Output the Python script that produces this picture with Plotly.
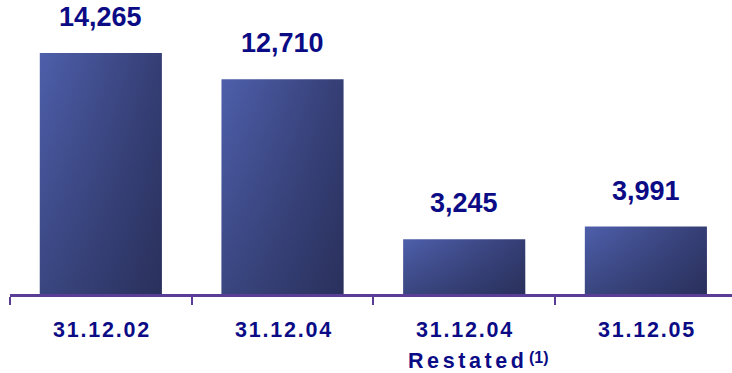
import plotly.graph_objects as go

# Data
categories = ["31.12.02", "31.12.04", "31.12.04", "31.12.05"]
sublabels = ["", "", "Restated", ""]
footnotes = ["", "", "(1)", ""]
values = [14265, 12710, 3245, 3991]
value_labels = ["14,265", "12,710", "3,245", "3,991"]

NAVY = "#0b0b85"
AXIS = "#5a3d96"
FONT = "Liberation Sans, Arial, sans-serif"
BAR_W = 0.672
HS = "\u200a"  # hair space, used for letter spacing


def spaced(s, n=1):
    return (HS * n).join(list(s))


fig = go.Figure()

for i, v in enumerate(values):
    xs = [i - BAR_W / 2, i + BAR_W / 2, i + BAR_W / 2, i - BAR_W / 2, i - BAR_W / 2]
    ys = [0, 0, v, v, 0]
    # base horizontal shading
    fig.add_trace(go.Scatter(
        x=xs, y=ys, mode="lines", fill="toself", line=dict(width=0),
        fillgradient=dict(type="horizontal",
                          colorscale=[[0, "#4e5fab"], [1, "#353e74"]]),
        hoverinfo="skip", showlegend=False))
    # darkening toward the bottom
    fig.add_trace(go.Scatter(
        x=xs, y=ys, mode="lines", fill="toself", line=dict(width=0),
        fillgradient=dict(type="vertical",
                          colorscale=[[0, "rgba(18,20,42,0.33)"],
                                      [1, "rgba(18,20,42,0)"]]),
        hoverinfo="skip", showlegend=False))
    # value label
    fig.add_annotation(x=i, y=v, xref="x", yref="y", text=value_labels[i],
                       showarrow=False, yanchor="middle", yshift=36,
                       font=dict(family=FONT, size=27, color=NAVY, weight="bold"))
    # category label
    fig.add_annotation(x=i, y=0, xref="x", yref="y", text=spaced(categories[i]),
                       showarrow=False, yanchor="middle", yshift=-36,
                       font=dict(family=FONT, size=21.5, color=NAVY, weight="bold"))
    if sublabels[i]:
        fig.add_annotation(x=i, y=0, xref="x", yref="y",
                           text=spaced(sublabels[i], 2),
                           showarrow=False, xanchor="center", xshift=2,
                           yanchor="middle", yshift=-67,
                           font=dict(family=FONT, size=21.5, color=NAVY, weight="bold"))
        fig.add_annotation(x=i, y=0, xref="x", yref="y",
                           text=footnotes[i],
                           showarrow=False, xanchor="center", xshift=75,
                           yanchor="middle", yshift=-63,
                           font=dict(family=FONT, size=16, color=NAVY, weight="bold"))

fig.update_layout(
    width=732, height=373,
    margin=dict(l=10, r=0, t=0, b=79),
    paper_bgcolor="white", plot_bgcolor="white",
    xaxis=dict(range=[-0.5, 3.474], showgrid=False, zeroline=False,
               showline=True, linecolor=AXIS, linewidth=2.5,
               tickvals=[-0.5, 0.5, 1.5, 2.5], ticks="outside",
               ticklen=8, tickwidth=2, tickcolor=AXIS,
               showticklabels=False, fixedrange=True),
    yaxis=dict(range=[0, 17401], visible=False, fixedrange=True),
)

fig.write_html("out.html")
